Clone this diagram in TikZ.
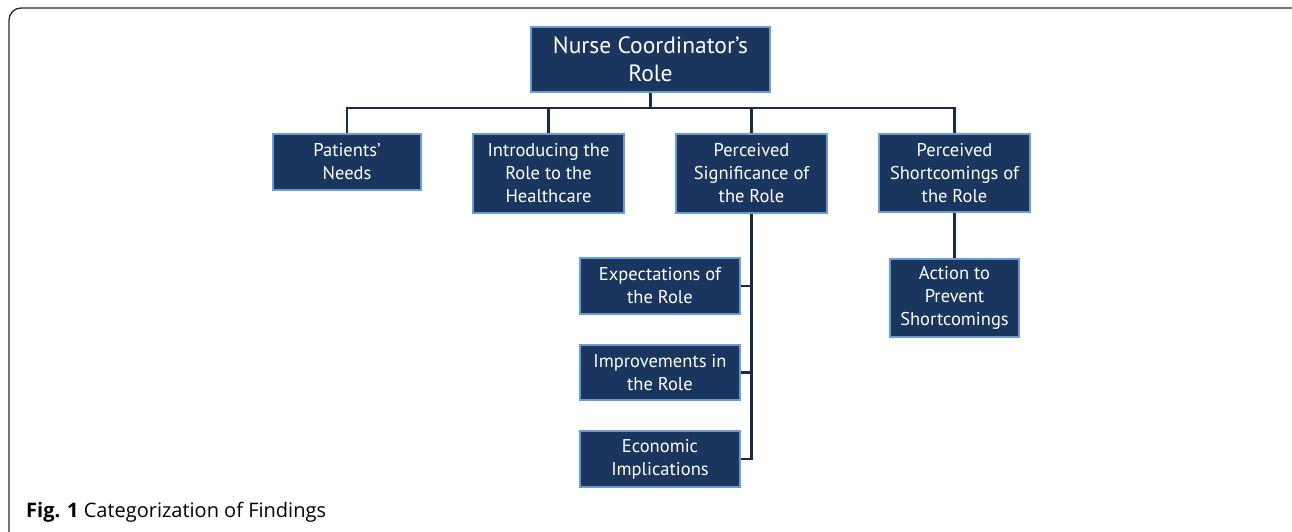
\documentclass[tikz,border=0pt]{standalone}
\usepackage{fontspec}
\setmainfont{Open Sans}
\newfontfamily\boxfont{PT Sans}
\definecolor{boxfill}{HTML}{1A365E}
\definecolor{boxedge}{HTML}{6C9AD2}
\definecolor{linkcol}{HTML}{1B2B47}
\definecolor{framecol}{HTML}{2A2A2A}
\tikzset{
  px/.style={x=1pt,y=-1pt},
  catbox/.style={draw=boxedge, fill=boxfill, line width=2.4pt, text=white,
    align=center, inner sep=0pt, font=\boxfont\fontsize{18.5}{23}\selectfont},
  link/.style={draw=linkcol, line width=2.4pt}
}
\begin{document}
\begin{tikzpicture}[px]
\useasboundingbox (0,0) rectangle (1292,532);
\clip (0,0) rectangle (1292,532);
\fill[white] (0,0) rectangle (1292,532);
\draw[framecol, line width=1.3pt, rounded corners=12pt] (9,8) rectangle (1306,548);

\node[catbox, minimum width=239pt, minimum height=65pt, font=\boxfont\fontsize{23.5}{28}\selectfont] (top) at (650.5,59.5) {Nurse Coordinator’s\\Role};
\node[catbox, minimum width=148pt, minimum height=56pt] (pn) at (347,162) {Patients’\\Needs};
\node[catbox, minimum width=151pt, minimum height=79pt] (intro) at (548.5,173.5) {Introducing the\\Role to the\\Healthcare};
\node[catbox, minimum width=151pt, minimum height=79pt] (sig) at (751.5,173.5) {Perceived\\Significance of\\the Role};
\node[catbox, minimum width=151pt, minimum height=78pt] (short) at (954.5,173) {Perceived\\Shortcomings of\\the Role};
\node[catbox, minimum width=129pt, minimum height=78pt] (act) at (954.5,298) {Action to\\Prevent\\Shortcomings};
\node[catbox, minimum width=160pt, minimum height=56pt] (exp) at (660,286) {Expectations of\\the Role};
\node[catbox, minimum width=160pt, minimum height=55pt] (imp) at (660,372.5) {Improvements in\\the Role};
\node[catbox, minimum width=160pt, minimum height=56pt] (eco) at (660,459) {Economic\\Implications};

\coordinate (bus) at (650.5,108);
\draw[link] (top.south) -- (bus);
\draw[link] (pn.north) |- (bus) -| (short.north);
\draw[link] (intro.north) -- (intro.north |- bus);
\draw[link] (sig.north) -- (sig.north |- bus);
\draw[link] (sig.south) -- (sig.south |- eco.east) -- (eco.east);
\draw[link] (exp.east) -- (exp.east -| sig.south);
\draw[link] (imp.east) -- (imp.east -| sig.south);
\draw[link] (short.south) -- (act.north);

\node[anchor=base west, inner sep=0pt, font=\fontsize{20}{24}\selectfont] (cap) at (26,517) {\textbf{Fig. 1} Categorization of Findings};
\end{tikzpicture}
\end{document}
